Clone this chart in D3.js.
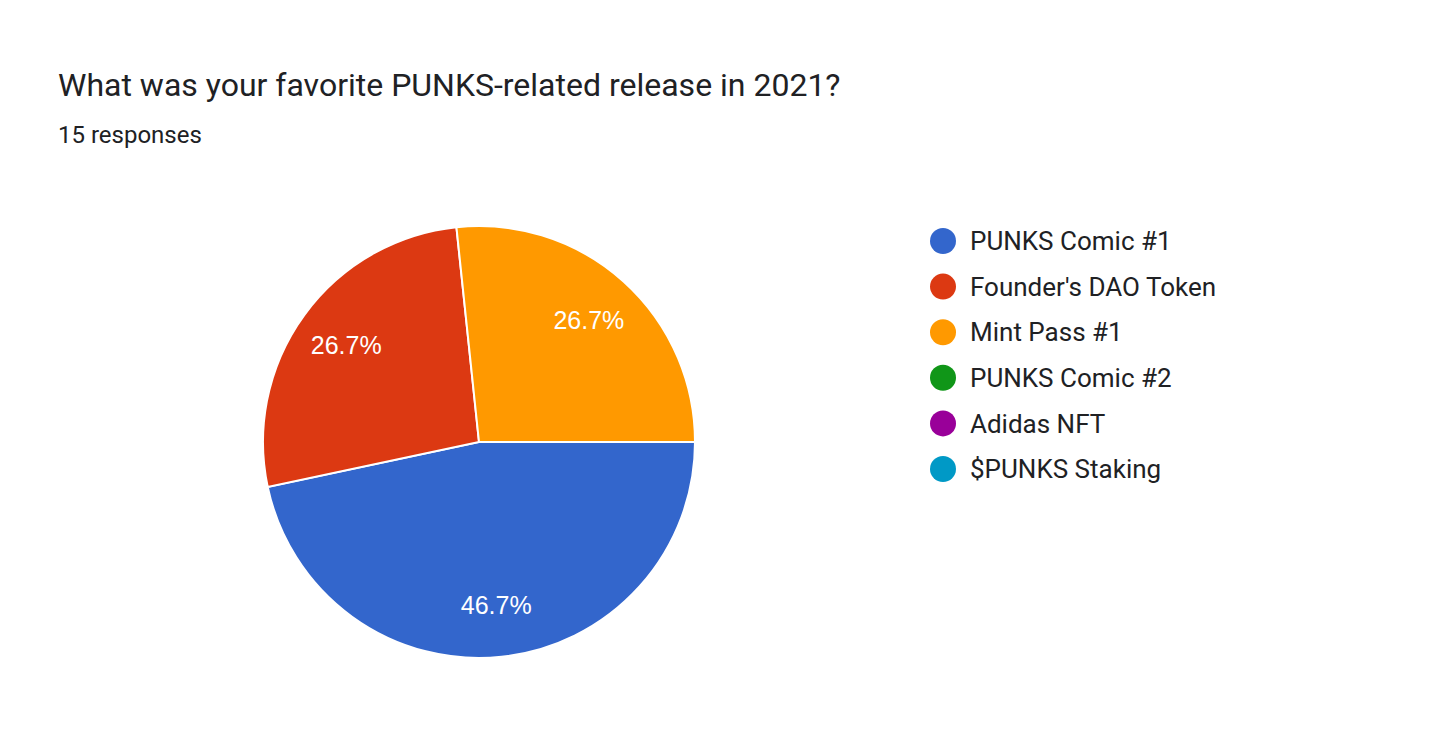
<!DOCTYPE html>
<html><head><meta charset="utf-8">
<script src="https://cdn.jsdelivr.net/npm/d3@7"></script>
<style>body{margin:0;background:#fff}</style></head>
<body><svg id="c" width="1456" height="741"></svg>
<script>
const categories = ["PUNKS Comic #1","Founder's DAO Token","Mint Pass #1","PUNKS Comic #2","Adidas NFT","$PUNKS Staking"];
const counts = [7,4,4,0,0,0];
const colors = ["#3366cc","#dc3912","#ff9900","#109618","#990099","#0099c6"];
const title = "What was your favorite PUNKS-related release in 2021?";
const subtitle = "15 responses";

const svg = d3.select("#c");
svg.append("text").attr("x",58).attr("y",96).attr("font-family","Roboto").attr("font-size",32).attr("fill","#202124").text(title);
svg.append("text").attr("x",58).attr("y",143).attr("font-family","Roboto").attr("font-size",24).attr("fill","#202124").text(subtitle);

const cx=479, cy=442, r=216;
const total = d3.sum(counts);
const pie = d3.pie().sort(null).startAngle(Math.PI/2).endAngle(Math.PI/2+2*Math.PI)(counts);
const arc = d3.arc().innerRadius(0).outerRadius(r);
const labelArc = d3.arc().innerRadius(r*0.76).outerRadius(r*0.76);
const g = svg.append("g").attr("transform",`translate(${cx},${cy})`);
g.selectAll("path").data(pie.filter(d=>d.value>0)).join("path")
  .attr("d",arc).attr("fill",d=>colors[d.index]).attr("stroke","#fff").attr("stroke-width",2);
g.selectAll("text").data(pie.filter(d=>d.value>0)).join("text")
  .attr("transform",d=>`translate(${labelArc.centroid(d)})`)
  .attr("text-anchor","middle").attr("dy","0.35em")
  .attr("font-family","Arial, Liberation Sans").attr("font-size",25).attr("fill","#fff")
  .text(d=>(d.value/total*100).toFixed(1)+"%");

const y = d3.scalePoint().domain(categories).range([241,469]);
const lg = svg.append("g");
categories.forEach((c,i)=>{
  lg.append("circle").attr("cx",943).attr("cy",y(c)).attr("r",13).attr("fill",colors[i]);
  lg.append("text").attr("x",970).attr("y",y(c)).attr("dy","0.35em")
    .attr("font-family","Roboto").attr("font-size",26).attr("fill","#202124").text(c);
});
</script></body></html>
